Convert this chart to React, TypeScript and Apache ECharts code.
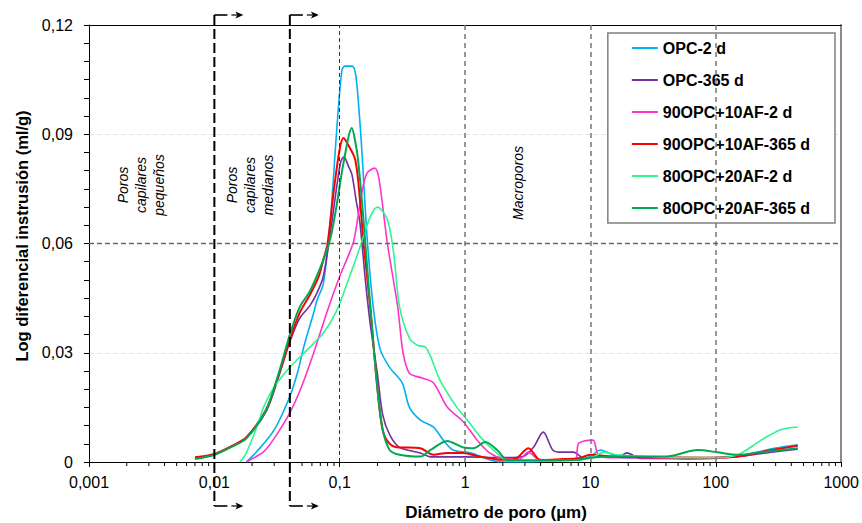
import React, { useEffect, useRef } from "react";
import * as echarts from "echarts";

const seriesNames = [
  "OPC-2 d",
  "OPC-365 d",
  "90OPC+10AF-2 d",
  "90OPC+10AF-365 d",
  "80OPC+20AF-2 d",
  "80OPC+20AF-365 d",
];
const seriesColors = ["#00B0F0", "#7030A0", "#FF33CC", "#FF0000", "#2EF590", "#00A850"];
const seriesWidths = [1.6, 1.6, 1.6, 2, 1.6, 2];

// [diámetro (µm), log diferencial intrusión (ml/g)]
const opc2d: [number, number][] = [
  [0.018, 0], [0.022, 0.003], [0.03, 0.0088], [0.04, 0.018], [0.046, 0.0245], [0.052, 0.032], [0.062, 0.041],
  [0.066, 0.0445], [0.074, 0.049], [0.084, 0.066], [0.095, 0.092], [0.104, 0.1075], [0.11, 0.1087],
  [0.125, 0.1087], [0.133, 0.107], [0.14, 0.1], [0.15, 0.0857], [0.165, 0.062], [0.185, 0.0426],
  [0.21, 0.031], [0.25, 0.026], [0.315, 0.0217], [0.36, 0.015], [0.44, 0.0115], [0.56, 0.0096],
  [0.67, 0.006], [0.8, 0.0033], [1.1, 0.0025], [1.6, 0.0005], [2, 0], [3, 0], [5, 0.0003], [8, 0.0008],
  [10, 0.0015], [12, 0.0033], [14, 0.0025], [18, 0.0012], [30, 0.0012], [60, 0.001], [100, 0.0012],
  [150, 0.0015], [200, 0.0025], [300, 0.0038], [450, 0.0047],
];
const opc365d: [number, number][] = [
  [0.007, 0.001], [0.01, 0.002], [0.014, 0.0045], [0.018, 0.0066], [0.026, 0.014], [0.033, 0.024],
  [0.04, 0.033], [0.048, 0.0395], [0.058, 0.043], [0.066, 0.0465], [0.074, 0.051], [0.085, 0.064],
  [0.095, 0.076], [0.102, 0.0825], [0.108, 0.0838], [0.118, 0.081], [0.125, 0.079], [0.135, 0.072],
  [0.145, 0.0656], [0.16, 0.05], [0.175, 0.038], [0.2, 0.024], [0.22, 0.013], [0.25, 0.0075],
  [0.3, 0.004], [0.44, 0.0025], [0.53, 0.0014], [1, 0.0014], [2, 0.0012], [2.9, 0.0015], [3.5, 0.004],
  [4.2, 0.0082], [5, 0.0033], [5.7, 0.0027], [7.3, 0.0027], [9, 0.001], [12, 0.0015], [17, 0.0015],
  [19.5, 0.0025], [25, 0.001], [50, 0.001], [100, 0.0012], [150, 0.0015], [250, 0.0025], [450, 0.0035],
];
const af10_2d: [number, number][] = [
  [0.018, 0], [0.025, 0.003], [0.03, 0.0065], [0.04, 0.0135], [0.05, 0.021], [0.062, 0.03],
  [0.08, 0.0417], [0.1, 0.051], [0.115, 0.056], [0.13, 0.061], [0.15, 0.074], [0.165, 0.0793],
  [0.19, 0.0807], [0.205, 0.078], [0.24, 0.06], [0.29, 0.0426], [0.32, 0.03], [0.36, 0.0244],
  [0.46, 0.023], [0.56, 0.0217], [0.72, 0.0151], [0.97, 0.011], [1.25, 0.006], [1.57, 0.0025],
  [2, 0.001], [2.7, 0.0008], [3.2, 0.0027], [3.8, 0.0008], [5, 0.0005], [7.5, 0.0006], [8, 0.005],
  [9, 0.0058], [10.5, 0.006], [11.5, 0.002], [14, 0.0012], [30, 0.0012], [60, 0.0008], [100, 0.001],
  [150, 0.0015], [250, 0.003], [450, 0.0045],
];
const af10_365d: [number, number][] = [
  [0.007, 0.0013], [0.01, 0.0022], [0.014, 0.0045], [0.018, 0.0068], [0.026, 0.0145], [0.033, 0.0245],
  [0.04, 0.0335], [0.048, 0.041], [0.058, 0.046], [0.068, 0.051], [0.074, 0.0555], [0.08, 0.06],
  [0.09, 0.075], [0.1, 0.086], [0.107, 0.089], [0.115, 0.0875], [0.133, 0.083], [0.145, 0.072],
  [0.155, 0.06], [0.175, 0.0426], [0.2, 0.02], [0.22, 0.0088], [0.25, 0.005], [0.3, 0.004],
  [0.35, 0.004], [0.44, 0.0038], [0.56, 0.002], [0.72, 0.0025], [0.97, 0.0025], [1.3, 0.0015],
  [2, 0.0006], [2.5, 0.0008], [3.2, 0.0038], [4, 0.0005], [6, 0.0008], [8, 0.001], [10, 0.002],
  [15, 0.0015], [30, 0.0013], [100, 0.0012], [150, 0.0015], [250, 0.003], [450, 0.0045],
];
const af20_2d: [number, number][] = [
  [0.016, 0], [0.018, 0.0025], [0.022, 0.01], [0.025, 0.0155], [0.03, 0.0206], [0.04, 0.026],
  [0.055, 0.0308], [0.074, 0.0354], [0.095, 0.0417], [0.12, 0.051], [0.145, 0.059], [0.175, 0.0673],
  [0.2, 0.07], [0.24, 0.0665], [0.27, 0.057], [0.3, 0.0426], [0.36, 0.034], [0.42, 0.032],
  [0.48, 0.0316], [0.53, 0.029], [0.63, 0.0225], [0.86, 0.015], [1.04, 0.0115], [1.32, 0.0069],
  [1.68, 0.0033], [2.15, 0.0005], [3, 0.0003], [5, 0.0003], [8, 0.0005], [10, 0.001], [13, 0.0027],
  [16, 0.002], [30, 0.0015], [50, 0.0012], [100, 0.0012], [150, 0.002], [230, 0.006], [325, 0.0088],
  [450, 0.0096],
];
const af20_365d: [number, number][] = [
  [0.007, 0.0008], [0.01, 0.002], [0.014, 0.0043], [0.018, 0.0065], [0.026, 0.0145], [0.033, 0.025],
  [0.04, 0.035], [0.048, 0.0426], [0.058, 0.047], [0.074, 0.0555], [0.085, 0.062], [0.095, 0.071],
  [0.107, 0.082], [0.125, 0.0917], [0.133, 0.088], [0.14, 0.083], [0.15, 0.072], [0.16, 0.06],
  [0.175, 0.043], [0.2, 0.02], [0.22, 0.009], [0.25, 0.0033], [0.3, 0.002], [0.44, 0.0015],
  [0.53, 0.0033], [0.72, 0.0058], [0.97, 0.004], [1.17, 0.0038], [1.45, 0.0055], [1.8, 0.0033],
  [2.2, 0.0005], [4, 0.0005], [8, 0.0006], [10, 0.0012], [20, 0.0015], [40, 0.0015], [72, 0.0033],
  [102, 0.0027], [150, 0.002], [230, 0.0027], [450, 0.0038],
];
const seriesData = [opc2d, opc365d, af10_2d, af10_365d, af20_2d, af20_365d];

const xTickLabels = ["0,001", "0,01", "0,1", "1", "10", "100", "1000"];
const xMin = 0.001;
const xMax = 1000;
const yMin = 0;
const yMax = 0.12;
const yInterval = 0.03;
const poreBoundaries = [0.01, 0.04];
const verticalRefLines = [0.1, 1, 10, 100];
const horizontalRefLine = 0.06;

const FONT = "'Liberation Sans', Arial, sans-serif";

export default function App() {
  const ref = useRef<HTMLDivElement>(null);

  useEffect(() => {
    const chart = echarts.init(ref.current!, null, { renderer: "svg" });

    const minorTickValues: number[] = [];
    for (let e = -3; e < 3; e++) {
      for (let m = 2; m <= 9; m++) minorTickValues.push(Number((m * Math.pow(10, e)).toPrecision(3)));
    }

    const lineSeries = seriesNames.map((name, i) => ({
      name,
      type: "line",
      data: seriesData[i],
      showSymbol: false,
      symbol: "none",
      smooth: 0.3,
      z: 2,
      lineStyle: { color: seriesColors[i], width: seriesWidths[i] },
      itemStyle: { color: seriesColors[i] },
      emphasis: { disabled: true },
      ...(i === 0
        ? {
            markLine: {
              silent: true,
              symbol: "none",
              label: { show: false },
              animation: false,
              data: [
                { xAxis: verticalRefLines[0], lineStyle: { color: "#333", width: 1, type: [4, 3] } },
                ...verticalRefLines.slice(1).map((v) => ({
                  xAxis: v,
                  lineStyle: { color: "#777", width: 1.5, type: [5, 4] },
                })),
                { yAxis: horizontalRefLine, lineStyle: { color: "#666", width: 1.3, type: [5, 3] } },
              ],
            },
          }
        : {}),
    }));

    const option: any = {
      animation: false,
      textStyle: { fontFamily: FONT },
      grid: { left: 89, right: 20, top: 25, bottom: 61 },
      legend: {
        data: seriesNames,
        orient: "vertical",
        right: 27,
        top: 33,
        padding: [7, 25, 7, 24],
        itemGap: 16,
        itemWidth: 26,
        itemHeight: 2,
        icon: "rect",
        backgroundColor: "#fff",
        borderColor: "#808080",
        borderWidth: 1.5,
        selectedMode: false,
        textStyle: { fontFamily: FONT, fontWeight: "bold", fontSize: 16, color: "#000", lineHeight: 16 },
      },
      xAxis: [
        {
          type: "log",
          logBase: 10,
          min: xMin,
          max: xMax,
          axisLine: { show: true, lineStyle: { color: "#000", width: 1 } },
          axisTick: { show: true, length: 5, lineStyle: { color: "#000" } },
          axisLabel: {
            margin: 12,
            fontSize: 16,
            color: "#000",
            fontFamily: FONT,
            formatter: (v: number) => xTickLabels[Math.round(Math.log10(v)) + 3] ?? "",
          },
          splitLine: { show: false },
        },
        {
          type: "log",
          logBase: 10,
          min: xMin,
          max: xMax,
          position: "top",
          axisLine: { show: true, onZero: false, lineStyle: { color: "#000", width: 1 } },
          axisTick: { show: false },
          axisLabel: { show: false },
          splitLine: { show: false },
        },
      ],
      yAxis: [
        {
          type: "value",
          min: yMin,
          max: yMax,
          interval: yInterval,
          axisLine: { show: true, lineStyle: { color: "#000", width: 1 } },
          axisTick: { show: true, length: 5, lineStyle: { color: "#000" } },
          minorTick: { show: true, splitNumber: 6, length: 5, lineStyle: { color: "#000" } },
          axisLabel: {
            margin: 16,
            fontSize: 16,
            color: "#000",
            fontFamily: FONT,
            formatter: (v: number) => (v === 0 ? "0" : v.toFixed(2).replace(".", ",")),
          },
          splitLine: { show: true, lineStyle: { color: "#e2e2e2", type: [5, 3], width: 1 } },
        },
        {
          type: "value",
          min: yMin,
          max: yMax,
          position: "right",
          axisLine: { show: true, onZero: false, lineStyle: { color: "#8a8a8a", width: 2 } },
          axisTick: { show: false },
          axisLabel: { show: false },
          splitLine: { show: false },
        },
      ],
      series: [
        ...lineSeries,
        {
          type: "custom",
          name: "minorTicks",
          silent: true,
          clip: false,
          z: 5,
          data: minorTickValues.map((v) => [v, 0]),
          renderItem: (_p: any, api: any) => {
            const p = api.coord([api.value(0), 0]);
            return {
              type: "line",
              shape: { x1: p[0], y1: p[1], x2: p[0], y2: p[1] + 4 },
              style: { stroke: "#000", lineWidth: 1 },
            };
          },
        },
        {
          type: "custom",
          name: "boundaries",
          silent: true,
          clip: false,
          z: 4,
          data: poreBoundaries.map((v) => [v, 0]),
          renderItem: (_p: any, api: any) => {
            const v = api.value(0);
            const top = api.coord([v, yMax]);
            const bot = api.coord([v, yMin]);
            const x = top[0];
            const yt = top[1] - 10;
            const yb = bot[1] + 44;
            const arrow = (y: number) => [
              { type: "line", shape: { x1: x, y1: y, x2: x + 13, y2: y }, style: { stroke: "#000", lineWidth: 1.6 } },
              { type: "line", shape: { x1: x + 17, y1: y, x2: x + 23, y2: y }, style: { stroke: "#000", lineWidth: 1.2 } },
              {
                type: "polygon",
                shape: { points: [[x + 21, y - 3.5], [x + 29, y], [x + 21, y + 3.5], [x + 23, y]] },
                style: { fill: "#000" },
              },
            ];
            return {
              type: "group",
              children: [
                {
                  type: "line",
                  shape: { x1: x, y1: yt, x2: x, y2: yb },
                  style: { stroke: "#000", lineWidth: 2, lineDash: [10, 4] },
                },
                ...arrow(yt),
                ...arrow(yb),
              ],
            };
          },
        },
      ],
      graphic: [
        {
          type: "text",
          x: 22,
          y: 236,
          rotation: Math.PI / 2,
          style: {
            text: "Log diferencial instrusión (ml/g)",
            fontFamily: FONT,
            fontWeight: "bold",
            fontSize: 16.5,
            fill: "#000",
            align: "center",
            verticalAlign: "middle",
          },
        },
        {
          type: "text",
          x: 496,
          y: 512,
          style: {
            text: "Diámetro de poro (µm)",
            fontFamily: FONT,
            fontWeight: "bold",
            fontSize: 17,
            fill: "#000",
            align: "center",
            verticalAlign: "middle",
          },
        },
        {
          type: "text",
          x: 141,
          y: 185,
          rotation: Math.PI / 2,
          style: {
            text: "Poros\ncapilares\npequeños",
            fontFamily: FONT,
            fontStyle: "italic",
            fontSize: 14,
            lineHeight: 18,
            fill: "#000",
            align: "center",
            verticalAlign: "middle",
          },
        },
        {
          type: "text",
          x: 250,
          y: 185,
          rotation: Math.PI / 2,
          style: {
            text: "Poros\ncapilares\nmedianos",
            fontFamily: FONT,
            fontStyle: "italic",
            fontSize: 14,
            lineHeight: 18,
            fill: "#000",
            align: "center",
            verticalAlign: "middle",
          },
        },
        {
          type: "text",
          x: 518,
          y: 183,
          rotation: Math.PI / 2,
          style: {
            text: "Macroporos",
            fontFamily: FONT,
            fontStyle: "italic",
            fontSize: 14,
            fill: "#000",
            align: "center",
            verticalAlign: "middle",
          },
        },
      ],
    };

    chart.setOption(option);
    return () => chart.dispose();
  }, []);

  return (
    <div
      ref={ref}
      style={{ position: "fixed", left: 0, top: 0, width: 862, height: 523, background: "#fff" }}
    />
  );
}
